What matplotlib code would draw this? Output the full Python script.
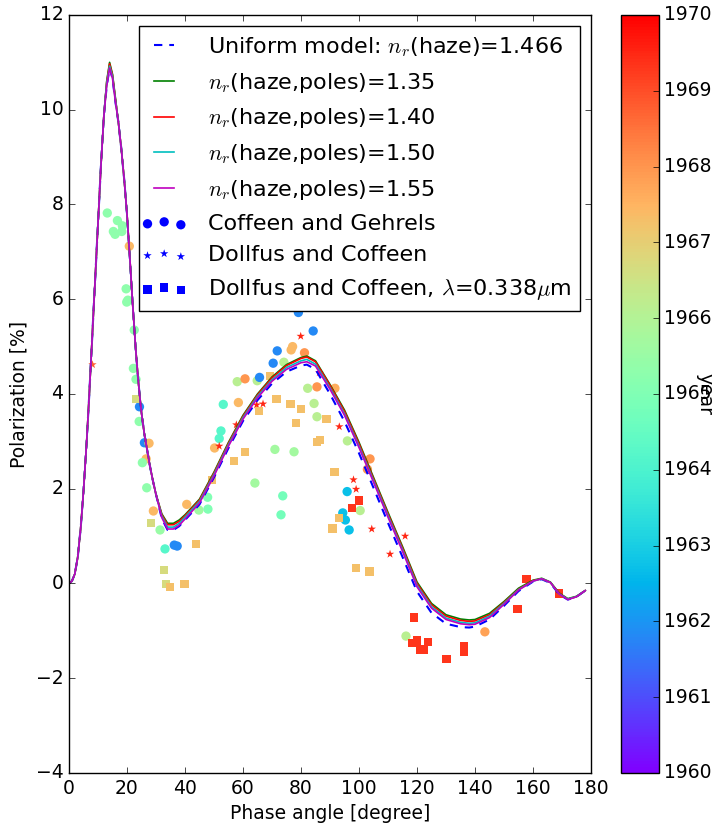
import matplotlib
matplotlib.use('Agg')
import matplotlib.pyplot as plt
from matplotlib.legend_handler import HandlerPathCollection
from matplotlib.ticker import FormatStrFormatter

plt.style.use('classic')
plt.rcParams['font.size'] = 13.5
plt.rcParams['mathtext.fontset'] = 'cm'

# model curves, phase angle grid [degree]
phase = [0, 1, 2, 3, 4, 5, 6, 7, 8, 9, 10, 11, 12, 13, 14, 15, 16, 17, 18, 19, 20,
         21, 22, 23, 24, 25, 26, 27, 28, 29, 30, 32, 34, 36, 38, 40, 45, 50, 55, 60,
         65, 70, 75, 80, 82, 85, 90, 95, 100, 105, 110, 115, 120, 125, 130, 135, 138,
         140, 145, 150, 155, 160, 163, 166, 169, 172, 175, 178]

# parts shared by all curves (0-12 deg, 17-30 deg)
rise = [0.00, 0.05, 0.20, 0.55, 1.15, 1.95, 2.90, 4.00, 5.20, 6.40, 7.60, 8.80, 9.85]
fall = [9.75, 9.20, 8.55, 7.80, 6.85, 5.85, 4.95, 4.20, 3.60, 3.15, 2.80, 2.45, 2.15, 1.88]

pol_uniform = rise + [10.50, 10.88, 10.66, 10.17] + fall + [
    1.37, 1.13, 1.13, 1.21, 1.34, 1.67, 2.24, 2.86, 3.43, 3.87, 4.22, 4.47, 4.60, 4.62,
    4.52, 4.00, 3.42, 2.75, 2.02, 1.28, 0.56, -0.17, -0.62, -0.85, -0.92, -0.93, -0.91,
    -0.76, -0.47, -0.16, 0.04, 0.09, 0.01, -0.23, -0.34, -0.28, -0.15]
pol_135 = rise + [10.60, 11.00, 10.75, 10.25] + fall + [
    1.47, 1.27, 1.27, 1.34, 1.45, 1.78, 2.35, 2.98, 3.55, 4.00, 4.36, 4.62, 4.77, 4.80,
    4.70, 4.20, 3.66, 2.98, 2.24, 1.50, 0.78, 0.03, -0.42, -0.66, -0.75, -0.77, -0.76,
    -0.63, -0.38, -0.10, 0.07, 0.11, 0.03, -0.20, -0.32, -0.27, -0.15]
pol_140 = rise + [10.58, 10.97, 10.73, 10.23] + fall + [
    1.45, 1.24, 1.24, 1.31, 1.43, 1.76, 2.33, 2.96, 3.53, 3.98, 4.34, 4.60, 4.75, 4.78,
    4.68, 4.18, 3.63, 2.95, 2.21, 1.47, 0.75, 0.00, -0.45, -0.69, -0.78, -0.80, -0.79,
    -0.66, -0.40, -0.12, 0.06, 0.10, 0.02, -0.21, -0.33, -0.28, -0.15]
pol_150 = rise + [10.55, 10.92, 10.70, 10.20] + fall + [
    1.42, 1.19, 1.19, 1.27, 1.40, 1.73, 2.30, 2.93, 3.50, 3.95, 4.30, 4.56, 4.70, 4.73,
    4.63, 4.13, 3.58, 2.90, 2.17, 1.43, 0.71, -0.04, -0.49, -0.73, -0.82, -0.84, -0.83,
    -0.69, -0.42, -0.13, 0.05, 0.10, 0.02, -0.22, -0.33, -0.28, -0.15]
pol_155 = rise + [10.50, 10.88, 10.66, 10.17] + fall + [
    1.39, 1.15, 1.15, 1.23, 1.36, 1.70, 2.27, 2.90, 3.47, 3.92, 4.27, 4.52, 4.66, 4.68,
    4.59, 4.10, 3.55, 2.87, 2.14, 1.40, 0.68, -0.07, -0.52, -0.76, -0.85, -0.87, -0.86,
    -0.72, -0.44, -0.14, 0.05, 0.10, 0.02, -0.22, -0.34, -0.28, -0.15]

# Coffeen and Gehrels
cg_phase = [13.2, 16.7, 18.4, 15.3, 15.9, 18.2, 20.8, 19.7, 20.3, 19.9, 22.5, 22.2, 23.1,
            24.3, 24.2, 26.0, 27.6, 26.6, 25.3, 26.8, 29.1, 31.4, 33.1, 36.3, 37.3, 40.6,
            44.8, 47.8, 47.9, 50.2, 51.8, 52.4, 53.2, 58.4, 58.0, 60.7, 64.9, 65.7, 64.1,
            70.4, 71.8, 74.1, 76.6, 77.1, 79.1, 84.2, 81.2, 71.0, 77.6, 73.7, 73.1, 82.3,
            85.5, 84.5, 85.5, 91.7, 96.0, 103.8, 102.9, 95.9, 100.4, 94.4, 95.3, 96.6,
            116.2, 143.4]
cg_pol = [7.82, 7.66, 7.55, 7.43, 7.37, 7.43, 7.12, 6.22, 5.98, 5.94, 5.35, 4.54, 4.31,
          3.73, 3.42, 2.97, 2.96, 2.63, 2.55, 2.02, 1.53, 1.13, 0.73, 0.81, 0.79, 1.67,
          1.55, 1.82, 1.57, 2.86, 3.06, 3.22, 3.78, 3.82, 4.26, 4.32, 4.28, 4.35, 2.12,
          4.65, 4.91, 4.67, 4.93, 5.00, 5.72, 5.33, 4.87, 2.83, 2.78, 1.85, 1.45, 4.12,
          4.15, 3.80, 3.52, 4.12, 3.01, 2.63, 2.41, 1.94, 1.54, 1.49, 1.34, 1.13,
          -1.11, -1.02]
cg_year = [1965.3, 1965.3, 1965.3, 1965.3, 1965.3, 1965.3, 1967.4, 1965.3, 1965.3, 1965.3,
           1965.3, 1965.3, 1965.3, 1961.8, 1965.3, 1961.8, 1967.4, 1967.4, 1965.3, 1965.3,
           1967.4, 1965.5, 1964.2, 1961.8, 1961.8, 1967.4, 1965.6, 1965.0, 1965.0, 1967.4,
           1964.2, 1964.2, 1964.2, 1967.4, 1966.1, 1968.0, 1966.1, 1961.8, 1965.7, 1961.8,
           1961.8, 1966.1, 1967.4, 1967.4, 1961.8, 1961.8, 1968.0, 1965.7, 1965.7, 1964.8,
           1964.8, 1966.1, 1968.0, 1966.1, 1966.1, 1967.6, 1966.1, 1968.0, 1968.0, 1962.7,
           1966.1, 1962.7, 1962.7, 1962.7, 1966.1, 1967.8]

# Dollfus and Coffeen
dc_phase = [8.1, 51.8, 57.7, 64.7, 66.9, 79.9, 86.3, 93.2, 98.1, 99.0, 104.4, 115.9, 110.7]
dc_pol = [4.62, 2.90, 3.35, 3.77, 3.79, 5.22, 4.45, 3.31, 2.19, 1.99, 1.15, 1.00, 0.62]
dc_year = [1968.8, 1969.5, 1969.5, 1969.5, 1969.5, 1969.5, 1969.5, 1969.5, 1969.5, 1969.5,
           1969.5, 1969.5, 1969.5]

# Dollfus and Coffeen, 0.338 micron
uv_phase = [23.3, 28.2, 43.8, 32.8, 33.4, 34.8, 39.8, 49.3, 56.9, 60.6, 65.6, 69.4, 71.6,
            76.4, 80.0, 78.2, 85.5, 86.6, 88.8, 91.6, 93.0, 90.9, 99.0, 103.6, 100.1, 97.5,
            119.0, 118.2, 120.1, 121.0, 122.4, 123.7, 130.2, 136.3, 136.3, 154.7, 157.8, 169.0]
uv_pol = [3.89, 1.28, 0.83, 0.29, -0.01, -0.08, -0.01, 2.18, 2.59, 2.78, 3.64, 4.38, 3.89,
          3.79, 3.69, 3.39, 2.99, 3.03, 3.47, 2.36, 1.38, 1.16, 0.33, 0.25, 1.75, 1.59,
          -0.72, -1.26, -1.20, -1.39, -1.39, -1.23, -1.59, -1.32, -1.44, -0.54, 0.09, -0.21]
uv_year = [1966.7, 1966.7, 1967.3, 1966.7, 1966.7, 1967.3, 1967.3, 1967.3, 1967.3, 1967.3,
           1967.3, 1967.3, 1967.3, 1967.3, 1967.3, 1967.3, 1967.3, 1967.3, 1967.3, 1967.3,
           1967.3, 1967.3, 1967.3, 1967.3, 1969.3, 1969.3, 1969.3, 1969.3, 1969.3, 1969.3,
           1969.3, 1969.3, 1969.3, 1969.3, 1969.3, 1969.3, 1969.3, 1969.3]

fig = plt.figure(figsize=(7.15, 8.27), dpi=100)
ax = fig.add_axes([0.0965, 0.0653, 0.7301, 0.9166])
cax = fig.add_axes([0.8685, 0.0653, 0.0531, 0.9166])

kw = dict(cmap='rainbow', vmin=1960, vmax=1970, edgecolors='none')
sc = ax.scatter(cg_phase, cg_pol, c=cg_year, marker='o', s=45, **kw)
ax.scatter(dc_phase, dc_pol, c=dc_year, marker='*', s=40, **kw)
ax.scatter(uv_phase, uv_pol, c=uv_year, marker='s', s=36, **kw)

l0, = ax.plot(phase, pol_uniform, 'b--', lw=1.5, dashes=(6, 5),
              label=r'Uniform model: $n_r$(haze)=1.466')
l1, = ax.plot(phase, pol_135, 'g-', lw=1.2, label=r'$n_r$(haze,poles)=1.35')
l2, = ax.plot(phase, pol_140, 'r-', lw=1.2, label=r'$n_r$(haze,poles)=1.40')
l3, = ax.plot(phase, pol_150, 'c-', lw=1.2, label=r'$n_r$(haze,poles)=1.50')
l4, = ax.plot(phase, pol_155, 'm-', lw=1.2, label=r'$n_r$(haze,poles)=1.55')

# blue proxies for the legend
p1 = ax.scatter([], [], c='b', marker='o', s=45, edgecolors='none', label='Coffeen and Gehrels')
p2 = ax.scatter([], [], c='b', marker='*', s=40, edgecolors='none', label='Dollfus and Coffeen')
p3 = ax.scatter([], [], c='b', marker='s', s=36, edgecolors='none',
                label=r'Dollfus and Coffeen, $\lambda$=0.338$\mu$m')

handles = [l0, l1, l2, l3, l4, p1, p2, p3]
ax.legend(handles=handles, loc='upper right', fontsize=16, fancybox=False, scatterpoints=3,
          handlelength=1.5, handletextpad=1.2, labelspacing=0.53,
          handler_map={p: HandlerPathCollection(marker_pad=0) for p in (p1, p2, p3)})

ax.set_xlim(0, 180)
ax.set_ylim(-4, 12)
ax.set_xlabel('Phase angle [degree]')
ax.set_ylabel('Polarization [%]')

cbar = fig.colorbar(sc, cax=cax, ticks=range(1960, 1971))
cbar.ax.yaxis.set_major_formatter(FormatStrFormatter('%d'))
cbar.ax.tick_params(direction='in')
cbar.set_label('year', rotation=270)
cbar.ax.yaxis.set_label_coords(2.45, 0.5)

fig.savefig('out.png', dpi=100, facecolor='w')
